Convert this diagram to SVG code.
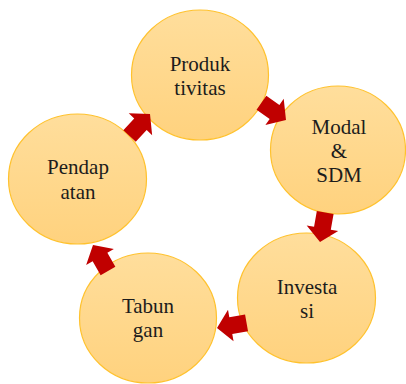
<svg xmlns="http://www.w3.org/2000/svg" width="406" height="384" viewBox="0 0 406 384">
<defs>
<linearGradient id="g" x1="0" y1="0" x2="0" y2="1">
<stop offset="0" stop-color="#FFDE9C"/>
<stop offset="1" stop-color="#FFD27E"/>
</linearGradient>
<style>
.n{fill:url(#g);stroke:#FFC22E;stroke-width:1.2}
.t{font-family:"Liberation Serif",serif;font-size:21px;fill:#1c1c1c;text-anchor:middle}
.a{fill:#C00000}
</style>
<polygon id="arr" points="0,0 -14,-16 -14,-8.5 -30,-8.5 -30,8.5 -14,8.5 -14,16"/>
</defs>
<rect width="406" height="384" fill="#ffffff"/>
<g id="node-produktivitas">
<ellipse class="n" cx="200" cy="75" rx="68.5" ry="65"/>
<text class="t" x="200" y="70.5">Produk</text>
<text class="t" x="200" y="95">tivitas</text>
</g>
<g id="node-modal">
<ellipse class="n" cx="338" cy="150" rx="67.5" ry="64"/>
<text class="t" x="339" y="133.5">Modal</text>
<text class="t" x="339" y="157.5">&amp;</text>
<text class="t" x="339" y="181.5">SDM</text>
</g>
<g id="node-investasi">
<ellipse class="n" cx="306.5" cy="298" rx="69" ry="65"/>
<text class="t" x="307" y="294">Investa</text>
<text class="t" x="307" y="318">si</text>
</g>
<g id="node-tabungan">
<ellipse class="n" cx="148" cy="318" rx="68.5" ry="65"/>
<text class="t" x="148" y="312.5">Tabun</text>
<text class="t" x="148" y="336.5">gan</text>
</g>
<g id="node-pendapatan">
<ellipse class="n" cx="77.5" cy="179" rx="69" ry="65"/>
<text class="t" x="78" y="174">Pendap</text>
<text class="t" x="78" y="198.5">atan</text>
</g>
<g id="connectors" class="a">
<use href="#arr" transform="translate(286,120) rotate(35)"/>
<use href="#arr" transform="translate(320,242) rotate(100)"/>
<use href="#arr" transform="translate(217,328) rotate(170)"/>
<use href="#arr" transform="translate(93,245) rotate(240)"/>
<use href="#arr" transform="translate(150,114) rotate(313)"/>
</g>
</svg>
